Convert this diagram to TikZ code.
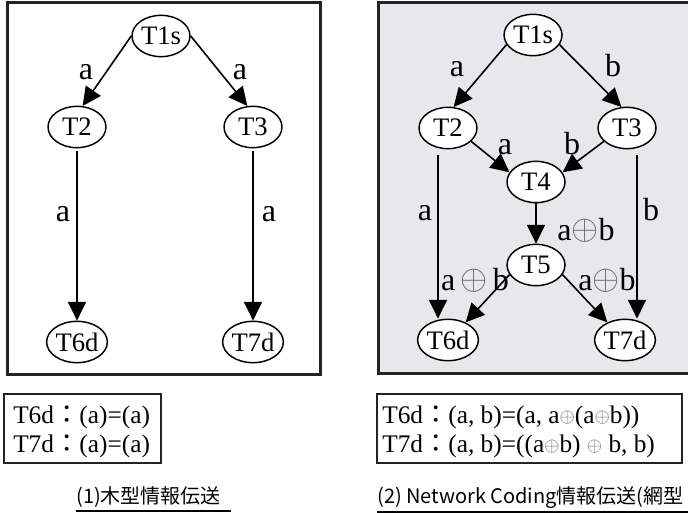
\documentclass[tikz,border=0pt]{standalone}
\usepackage{fontspec}
\setmainfont{Liberation Serif}
\newfontfamily\cjk{Noto Sans CJK JP}
\usepackage{graphicx}
\usetikzlibrary{shapes.geometric,arrows.meta}
\definecolor{panelgray}{RGB}{232,232,236}
\definecolor{framec}{RGB}{35,35,35}
\newcommand{\myoplus}[1]{{\color{black!60}\raisebox{0.02em}{\scalebox{#1}{$\oplus$}}}}
\newcommand{\fwcolon}{{\cjk ：}}
\begin{document}
\begin{tikzpicture}[x=0.75pt,y=-0.75pt,
  nd/.style={ellipse,draw,line width=1.1pt,fill=white,inner sep=0pt,minimum width=43.5pt,minimum height=31pt,font=\fontsize{20}{20}\selectfont},
  edge/.style={line width=1.2pt,-{Triangle[length=14pt,width=13.5pt]}},
  lbl/.style={anchor=base,inner sep=0pt,font=\fontsize{24}{24}\selectfont},
  panel/.style={line width=2.25pt,draw=framec},
  fbox/.style={draw=framec,line width=1.1pt},
  fline/.style={anchor=base west,inner sep=0pt,font=\fontsize{19}{19}\selectfont},
  captxt/.style={anchor=base west,inner sep=0pt,font=\cjk\fontsize{15}{15}\selectfont},
  uline/.style={line width=1.6pt}]
\useasboundingbox (0,0) rectangle (688,513);
\clip (0,0) rectangle (688,513);

% panels
\draw[panel] (7,3) rectangle (320,374);
\draw[panel,fill=panelgray] (378,3) rectangle (700,373);

% left tree
\node[nd] (L1) at (161,36) {T1s};
\node[nd] (L2) at (77,127) {T2};
\node[nd] (L3) at (253,127) {T3};
\node[nd] (L6) at (77,342) {T6d};
\node[nd] (L7) at (253,342) {T7d};
\draw[edge] (L1.west) -- (L2.75);
\draw[edge] (L1.east) -- (L3.105);
\draw[edge,shorten <=2pt] (L2.south) -- (L6.north);
\draw[edge,shorten <=2pt] (L3.south) -- (L7.north);
\node[lbl] (la1) at (86,80) {a};
\node[lbl] (la2) at (240,80) {a};
\node[lbl] (la3) at (63,222) {a};
\node[lbl] (la4) at (269,222) {a};

% right network
\node[nd] (R1) at (533,35) {T1s};
\node[nd] (R2) at (448,128) {T2};
\node[nd] (R3) at (627,128) {T3};
\node[nd] (R4) at (536,182) {T4};
\node[nd] (R5) at (536,265) {T5};
\node[nd] (R6) at (448,340) {T6d};
\node[nd] (R7) at (625,340) {T7d};
\draw[edge] (R1.200) -- (R2.75);
\draw[edge] (R1.-20) -- (R3.105);
\draw[edge] (R2.-30) -- (R4.160);
\draw[edge] (R3.210) -- (R4.20);
\draw[edge] (R4.south) -- (R5.north);
\draw[edge] (R5.200) -- (R6.45);
\draw[edge] (R5.-20) -- (R7.135);
\draw[edge] ([xshift=-7.5pt,yshift=-4.5pt]R2.south) -- ([xshift=-7.5pt]R6.north);
\draw[edge] ([xshift=7.5pt,yshift=-4.5pt]R3.south) -- ([xshift=9pt]R7.north);
\node[lbl] (ra1) at (457,77) {a};
\node[lbl] (rb1) at (613,77) {b};
\node[lbl] (ra2) at (505,155) {a};
\node[lbl] (rb2) at (572,155) {b};
\node[lbl] (ra3) at (425,220) {a};
\node[lbl] (rb3) at (651,220) {b};
\node[lbl] (rx1) at (586,240) {a\myoplus{1.05}b};
\node[lbl] (rx2) at (475,290) {a\,\myoplus{1.05}\,b};
\node[lbl] (rx3) at (607,290) {a\myoplus{1.05}b};

% formula boxes
\draw[fbox] (4,394) rectangle (161,463);
\node[fline] (f11) at (13,423) {T6d\fwcolon(a)=(a)};
\node[fline] (f12) at (13,452) {T7d\fwcolon(a)=(a)};
\draw[fbox] (377,394) rectangle (682,463);
\node[fline] (f21) at (382,423) {T6d\fwcolon(a, b)=(a, a\myoplus{0.85}(a\myoplus{0.85}b))};
\node[fline] (f22) at (382,452) {T7d\fwcolon(a, b)=((a\myoplus{0.85}b) \myoplus{0.85} b, b)};

% captions
\node[captxt] (c1) at (76,503) {(1)木型情報伝送};
\draw[uline] (76,511) -- (231,511);
\node[captxt] (c2) at (377,503) {(2) Network Coding情報伝送(網型};
\draw[uline] (377,512) -- (690,512);
\end{tikzpicture}
\end{document}
